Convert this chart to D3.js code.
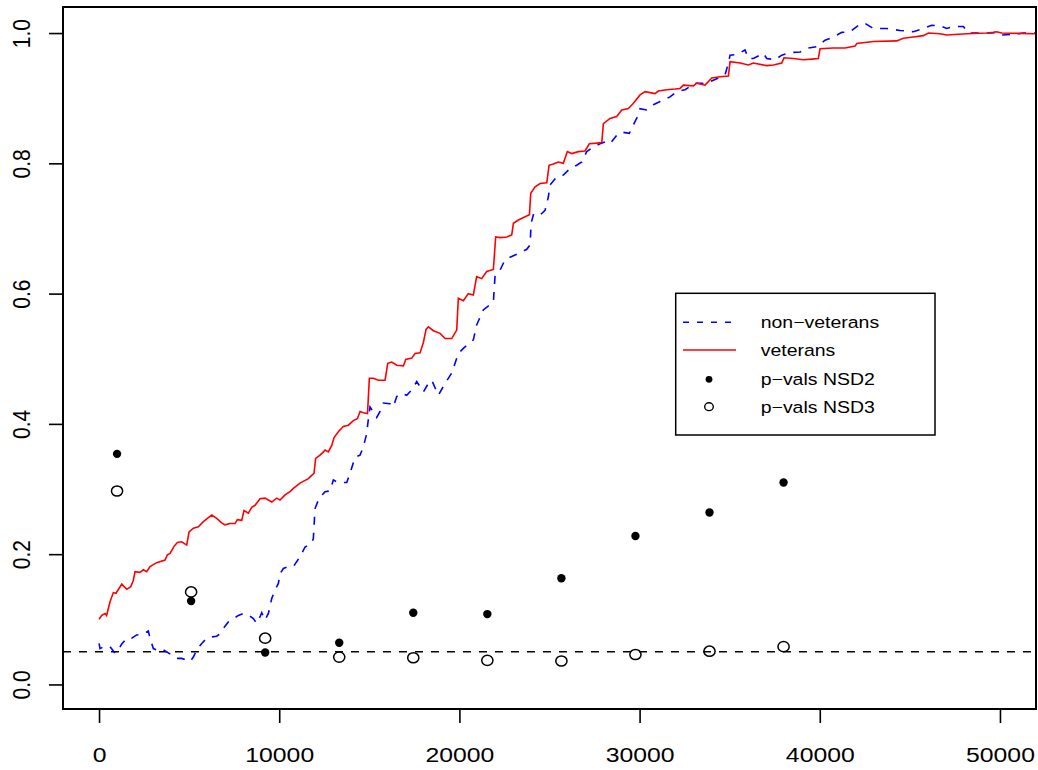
<!DOCTYPE html>
<html>
<head>
<meta charset="utf-8">
<script src="https://cdn.jsdelivr.net/npm/d3@7"></script>
<style>
  body { margin: 0; background: #fff; }
  text { font-family: "Liberation Sans", Arial, Helvetica, sans-serif; fill: #000; }
</style>
</head>
<body>
<svg id="chart" width="1038" height="770"></svg>
<script>
// veterans (red, solid)
var vetX = [0,150,333,420,610,795,943,1260,1537,1759,1904,1998,2275,2460,2645,2830,3200,3663,3793,3940,
  4162,4347,4587,4865,4995,5235,5512,5790,6068,6253,6530,6808,6993,7270,7548,7675,7920,8048,8288,8475,
  8658,8935,9213,9585,9862,10045,10323,10600,10784,11155,11616,11800,11930,12023,12265,12450,12543,12728,12914,13042,
  13280,13558,13836,14114,14336,14485,14670,14900,15002,15224,15501,15873,16022,16244,16522,16892,17020,17353,17538,17815,
  18000,18150,18277,18554,18925,19203,19574,19851,19940,20218,20495,20773,20958,21236,21514,21884,22014,22255,22626,22904,
  22997,23274,23645,23886,23960,24200,24477,24848,24975,25210,25490,25768,25990,26230,26600,26970,27210,27620,27900,27990,
  28360,28730,29010,29375,29620,30025,30300,30855,31040,31505,31970,32245,32430,32985,33170,33633,34004,34466,34929,35020,
  35575,36037,36315,37055,37425,37888,38015,38533,39088,39550,39920,40015,40755,41405,41960,42050,42975,44270,44640,45195,
  45750,46030,46675,47045,48155,49265,49635,49820,50098,52000];
var vetY = [0.100,0.106,0.109,0.106,0.127,0.141,0.140,0.154,0.146,0.150,0.160,0.173,0.172,0.176,0.173,0.181,0.187,0.191,0.199,0.201,
  0.212,0.218,0.219,0.214,0.234,0.240,0.242,0.250,0.256,0.260,0.255,0.248,0.245,0.247,0.247,0.253,0.252,0.267,0.263,0.272,
  0.275,0.285,0.286,0.280,0.286,0.283,0.291,0.296,0.301,0.309,0.316,0.321,0.324,0.347,0.352,0.357,0.360,0.357,0.367,0.379,
  0.388,0.396,0.398,0.405,0.408,0.419,0.417,0.416,0.470,0.470,0.467,0.467,0.493,0.495,0.490,0.489,0.499,0.501,0.508,0.509,
  0.525,0.545,0.549,0.543,0.539,0.531,0.531,0.544,0.593,0.589,0.600,0.598,0.626,0.623,0.634,0.637,0.687,0.686,0.687,0.690,
  0.708,0.713,0.718,0.721,0.754,0.764,0.769,0.770,0.797,0.799,0.802,0.800,0.818,0.815,0.818,0.819,0.830,0.831,0.832,0.861,
  0.869,0.872,0.882,0.884,0.891,0.905,0.910,0.907,0.911,0.913,0.914,0.915,0.920,0.919,0.923,0.920,0.931,0.933,0.934,0.956,
  0.954,0.951,0.954,0.950,0.951,0.954,0.962,0.961,0.959,0.960,0.961,0.976,0.977,0.977,0.980,0.984,0.987,0.988,0.992,0.994,
  0.996,1.000,0.999,0.997,0.999,1.000,1.001,1.002,1.000,0.999];

// non-veterans (blue, dashed)
var nonX = [0,55,333,610,888,1070,1260,1537,1814,2092,2370,2553,2736,2830,3013,3200,3478,3755,4032,4310,
  4587,4865,5050,5235,5420,5700,5977,6253,6530,6715,6900,7178,7455,7733,8010,8288,8566,8750,8935,9030,
  9213,9398,9585,9768,9953,10045,10230,10510,10784,11155,11433,11800,11893,11988,12170,12265,12450,12543,12820,13004,
  13190,13470,13747,13930,14207,14485,14670,14855,14948,15040,15410,15595,15780,16150,16335,16522,16800,17076,17353,17630,
  18000,18277,18462,18832,19203,19574,19940,20218,20773,20958,21328,21884,21975,22255,22533,22904,23460,23738,23923,23980,
  24103,24380,24755,24940,25030,25400,25768,26140,26510,26790,27065,27435,27806,28084,28360,28730,29010,29430,29650,29930,
  30025,30395,30765,31135,31690,32060,32522,33078,33725,34281,34744,34929,35020,35390,35853,36037,36315,36870,37055,37518,
  37888,38350,38905,39365,39830,40290,40755,41220,41683,42240,42500,42975,43715,44455,45195,45750,46213,46675,47045,47415,
  47970,48250,48895,49450,49820,50100,50740,51300,52000];
var nonY = [0.063,0.055,0.059,0.058,0.048,0.053,0.062,0.071,0.071,0.076,0.077,0.079,0.082,0.071,0.055,0.053,0.055,0.050,0.045,0.040,
  0.040,0.037,0.035,0.042,0.053,0.063,0.071,0.073,0.074,0.078,0.086,0.096,0.101,0.106,0.109,0.107,0.101,0.094,0.104,0.110,
  0.099,0.109,0.132,0.145,0.155,0.170,0.178,0.181,0.181,0.196,0.211,0.217,0.224,0.270,0.283,0.288,0.293,0.296,0.297,0.314,
  0.311,0.310,0.310,0.324,0.349,0.352,0.365,0.385,0.408,0.426,0.410,0.419,0.432,0.431,0.426,0.442,0.447,0.444,0.452,0.465,
  0.449,0.462,0.467,0.444,0.462,0.478,0.508,0.516,0.529,0.552,0.575,0.587,0.626,0.636,0.652,0.657,0.664,0.668,0.675,0.708,
  0.721,0.718,0.728,0.749,0.767,0.779,0.782,0.792,0.797,0.802,0.818,0.825,0.830,0.833,0.830,0.843,0.848,0.846,0.859,0.874,
  0.884,0.882,0.890,0.895,0.902,0.910,0.913,0.923,0.923,0.930,0.936,0.954,0.966,0.967,0.974,0.961,0.961,0.969,0.961,0.959,
  0.966,0.970,0.971,0.977,0.979,0.989,0.994,1.001,1.002,1.014,1.015,1.007,1.007,1.004,1.002,1.007,1.012,1.011,1.007,1.010,
  1.010,1.000,1.000,1.000,1.001,0.997,0.998,1.000,1.000];

// p-values at the test points
var pX = [1000,5110,9220,13330,17440,21550,25660,29770,33880,37990];
var nsd2 = [0.354,0.128,0.049,0.064,0.110,0.108,0.163,0.228,0.264,0.310];
var nsd3 = [0.297,0.142,0.071,0.042,0.041,0.037,0.036,0.046,0.051,0.058];
var cutoff = 0.05;

var xTicks = [0,10000,20000,30000,40000,50000];
var yTicks = [0,0.2,0.4,0.6,0.8,1.0];
var legendLabels = ["non\u2212veterans","veterans","p\u2212vals NSD2","p\u2212vals NSD3"];

var box = {left: 63, right: 1036, top: 7, bottom: 709};
var stretch = 1.18; // glyphs are wider than tall in the original

var svg = d3.select("#chart");

var x = d3.scaleLinear().domain([-2000, 52000]).range([box.left, box.right]);
var y = d3.scaleLinear().domain([-0.0377, 1.04]).range([box.bottom, box.top]);

svg.append("clipPath").attr("id", "clip")
  .append("rect")
  .attr("x", box.left).attr("y", box.top)
  .attr("width", box.right - box.left).attr("height", box.bottom - box.top);

var plot = svg.append("g").attr("clip-path", "url(#clip)");

var line = d3.line()
  .x(function(d) { return x(d[0]); })
  .y(function(d) { return y(d[1]); });

// reference line at 0.05
plot.append("path")
  .datum([[-2000, cutoff], [52000, cutoff]])
  .attr("d", line)
  .attr("fill", "none").attr("stroke", "#000").attr("stroke-width", 1.5)
  .attr("stroke-dasharray", "8,8");

plot.append("path")
  .datum(nonX.map(function(v, i) { return [v, nonY[i]]; }))
  .attr("d", line)
  .attr("fill", "none").attr("stroke", "#0000ff").attr("stroke-width", 1.6)
  .attr("stroke-dasharray", "8,8");

plot.append("path")
  .datum(vetX.map(function(v, i) { return [v, vetY[i]]; }))
  .attr("d", line)
  .attr("fill", "none").attr("stroke", "#ff0000").attr("stroke-width", 1.6);

plot.selectAll(".nsd2").data(pX).enter().append("circle")
  .attr("class", "nsd2")
  .attr("cx", function(d) { return x(d); })
  .attr("cy", function(d, i) { return y(nsd2[i]); })
  .attr("r", 4.2).attr("fill", "#000");

plot.selectAll(".nsd3").data(pX).enter().append("ellipse")
  .attr("class", "nsd3")
  .attr("cx", function(d) { return x(d); })
  .attr("cy", function(d, i) { return y(nsd3[i]); })
  .attr("rx", 5.6).attr("ry", 5.1)
  .attr("fill", "none").attr("stroke", "#000").attr("stroke-width", 1.5);

// axes
var gX = svg.append("g")
  .attr("transform", "translate(0," + box.bottom + ")")
  .call(d3.axisBottom(x).tickValues(xTicks).tickSize(14).tickFormat(d3.format("d")));
gX.select(".domain").remove();
gX.selectAll("line").attr("stroke-width", 1.6);
gX.selectAll("text")
  .attr("y", null).attr("dy", null)
  .attr("transform", "translate(0,53) scale(" + stretch + ",1)")
  .attr("font-size", 21)
  .attr("font-family", "'Liberation Sans', Arial, sans-serif");

var gY = svg.append("g")
  .attr("transform", "translate(" + box.left + ",0)")
  .call(d3.axisLeft(y).tickValues(yTicks).tickSize(14).tickFormat(d3.format(".1f")));
gY.select(".domain").remove();
gY.selectAll("line").attr("stroke-width", 1.6);
gY.selectAll("text")
  .attr("x", null).attr("dy", null)
  .attr("text-anchor", "middle")
  .attr("transform", "translate(" + (30 - box.left) + ",0) rotate(-90) scale(1," + stretch + ")")
  .attr("font-size", 21)
  .attr("font-family", "'Liberation Sans', Arial, sans-serif");

// plot box
svg.append("rect")
  .attr("x", box.left).attr("y", box.top)
  .attr("width", box.right - box.left).attr("height", box.bottom - box.top)
  .attr("fill", "none").attr("stroke", "#000").attr("stroke-width", 2);

// legend
var leg = svg.append("g");
leg.append("rect")
  .attr("x", 675.7).attr("y", 293.3).attr("width", 259.3).attr("height", 141.7)
  .attr("fill", "#fff").attr("stroke", "#000").attr("stroke-width", 1.5);

var rowY = [322.3, 350, 379.3, 406.7];

leg.append("line")
  .attr("x1", 683).attr("x2", 736).attr("y1", rowY[0]).attr("y2", rowY[0])
  .attr("stroke", "#0000ff").attr("stroke-width", 1.6).attr("stroke-dasharray", "6,8");
leg.append("line")
  .attr("x1", 683).attr("x2", 736).attr("y1", rowY[1]).attr("y2", rowY[1])
  .attr("stroke", "#ff0000").attr("stroke-width", 1.6);
leg.append("circle")
  .attr("cx", 709).attr("cy", rowY[2]).attr("r", 3.4).attr("fill", "#000");
leg.append("ellipse")
  .attr("cx", 709).attr("cy", rowY[3]).attr("rx", 4.3).attr("ry", 3.9)
  .attr("fill", "none").attr("stroke", "#000").attr("stroke-width", 1.4);

leg.selectAll(".lab").data(legendLabels).enter().append("text")
  .attr("class", "lab")
  .attr("transform", function(d, i) {
    return "translate(760.7," + (rowY[i] + 6) + ") scale(" + stretch + ",1)";
  })
  .attr("font-size", 16.5)
  .text(function(d) { return d; });
</script>
</body>
</html>
